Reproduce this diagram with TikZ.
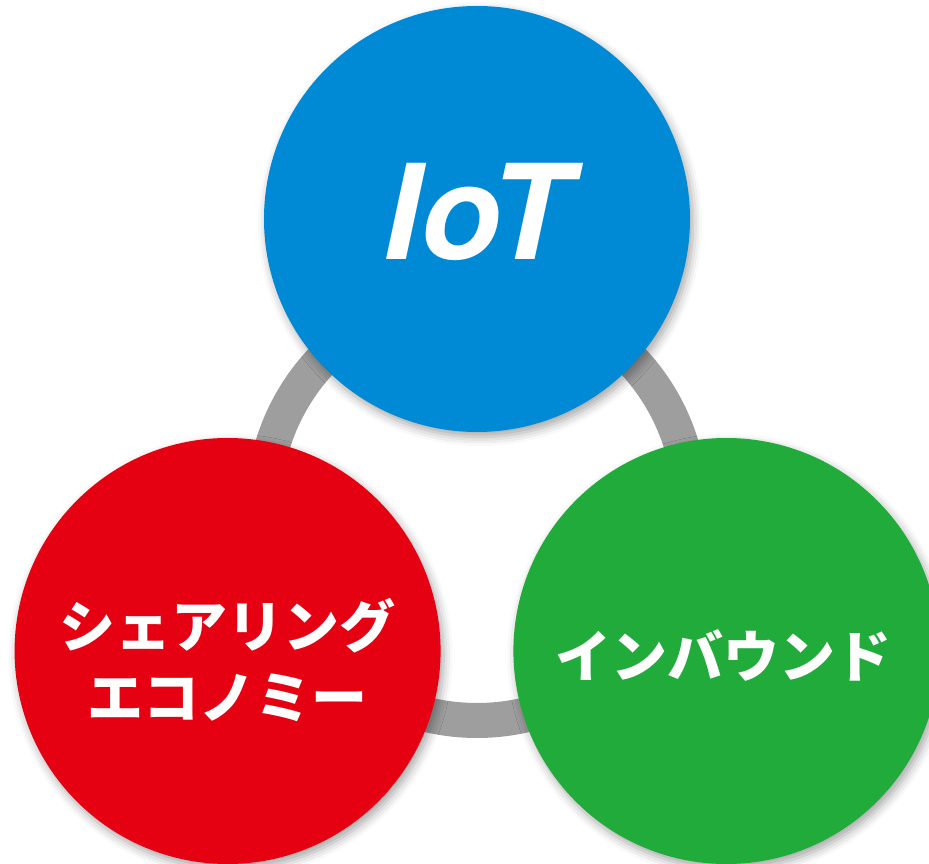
\documentclass[tikz,border=0pt]{standalone}
\usepackage{fontspec}
\usepackage{tikz}
\usetikzlibrary{shadows.blur}
\newfontfamily\jpfont{Noto Sans CJK JP Black}
\newfontfamily\latinfont{TeX Gyre Heros}
\definecolor{iotblue}{HTML}{008AD6}
\definecolor{sharered}{HTML}{E50012}
\definecolor{inboundgreen}{HTML}{21AB3A}
\definecolor{ringgray}{HTML}{9E9E9F}

\begin{document}
\begin{tikzpicture}[x=1pt, y=1pt,
	bubble/.style={circle, minimum size=426pt, inner sep=0pt,
		blur shadow={shadow xshift=3pt, shadow yshift=-5pt, shadow blur radius=9pt, shadow opacity=35}},
	ring/.style={draw=ringgray, line width=35pt},
	caption/.style={text=white, align=center},
	jptext/.style={caption, font=\jpfont\fontsize{56}{71}\selectfont}]
	\useasboundingbox (-477,-357) rectangle (452,507);
	\coordinate (hub) at (0,0);
	\draw[ring] (hub) circle (213.5);
	\node[bubble, fill=iotblue] (iot) at ( 90 : 288 ) {};
	\node[bubble, fill=sharered] (share) at ( 210 : 288 ) {};
	\node[bubble, fill=inboundgreen] (inbound) at ( 330 : 288 ) {};
	\node[caption, font=\latinfont\bfseries\itshape\fontsize{132}{132}\selectfont] (iot-label) at ([yshift=7]iot.center) {IoT};
	\node[jptext] (share-label) at ([yshift=-9]share.center) {シェアリング\\エコノミー};
	\node[jptext] (inbound-label) at ([xshift=-3, yshift=-4]inbound.center) {インバウンド};
\end{tikzpicture}
\end{document}
